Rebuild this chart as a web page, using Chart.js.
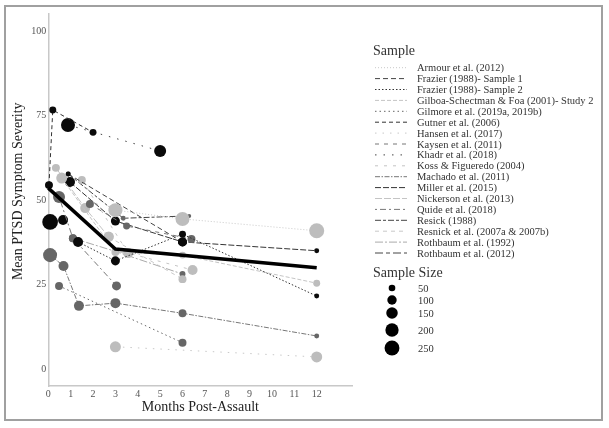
<!DOCTYPE html>
<html><head><meta charset="utf-8">
<script src="https://cdn.jsdelivr.net/npm/chart.js@4.4.1/dist/chart.umd.min.js"></script>
<style>
html,body{margin:0;padding:0;background:#fff;}
#wrap{position:relative;width:609px;height:428px;overflow:hidden;}
#c{position:absolute;left:0;top:0;}
#legend{position:absolute;left:0;top:0;pointer-events:none;}
#frame{position:absolute;left:4px;top:5px;width:595px;height:412px;border:2px solid #a0a0a0;pointer-events:none;}
</style></head>
<body>
<div id="wrap">
<canvas id="c" width="609" height="428"></canvas>
<svg id="legend" width="609" height="428" xmlns="http://www.w3.org/2000/svg"></svg>
<div id="frame"></div>
</div>
<script>
// ---- DATA: rows are [months post-assault, mean PTSD severity, sample size] ----
const armourPts       = [[3,47,222],[6,44.4,222],[12,40.9,255]];
const frazier1Pts     = [[0.89,57.7,28],[6,37.6,92]];
const frazier2Pts     = [[1.33,37.6,113],[3,32,92],[6,39.9,55],[12,21.6,28]];
const gilboaPts       = [[0.6,56.5,137],[3,34.6,72],[6,33.7,55],[12,25.4,55]];
const gilmorePts      = [[0.48,24.6,72],[6,7.8,72]];
const gutnerPts       = [[0.03,54.4,72],[0.2,76.6,55],[2,70,55]];
const hansenPts       = [[3,6.6,137],[12,3.6,137]];
const kaysenPts       = [[1.86,48.8,72],[3.5,42.3,55],[6.4,38.5,72]];
const khadrPts        = [[0.88,72.2,222],[5,64.5,163]];
const kossPts         = [[1.5,55.9,72],[3.57,34.3,113],[6.45,29.3,113]];
const machadoPts      = [[0.08,33.7,222],[0.68,30.5,113],[1.37,18.7,113],[3,19.5,113],[6,16.5,72],[12,9.8,28]];
const millerPts       = [[0.97,55.3,113],[3,43.8,92],[6,37.6,92],[12,35,28]];
const nickersonPts    = [[0.34,59.5,72],[1.65,47.6,113],[2.7,39.1,113]];
const quidePts        = [[0.48,50.9,163],[1.1,38.7,72],[3.05,24.6,92]];
const resickPts       = [[0.89,57.7,28],[3.35,44.6,28],[6.3,45.3,18]];
const resnickPts      = [[2.7,39.1,113],[6,26.6,72]];
const rothbaum1992Pts = [[1.1,38.7,72],[3,34.8,50],[6,28.1,40]];
const rothbaum2012Pts = [[0.08,43.5,280],[0.66,44.1,113]];

const meanTrendMonths = [0,3,12];
const meanTrendValues = [53.5,35.5,30];

const xTickValues = [0,1,2,3,4,5,6,7,8,9,10,11,12];
const yTickValues = [0,25,50,75,100];
const sizeLegendValues = [50,100,150,200,250];

const studyNames = ["Armour et al. (2012)","Frazier (1988)- Sample 1","Frazier (1988)- Sample 2",
 "Gilboa-Schectman & Foa (2001)- Study 2","Gilmore et al. (2019a, 2019b)","Gutner et al. (2006)",
 "Hansen et al. (2017)","Kaysen et al. (2011)","Khadr et al. (2018)","Koss & Figueredo (2004)",
 "Machado et al. (2011)","Miller et al. (2015)","Nickerson et al. (2013)","Quide et al. (2018)",
 "Resick (1988)","Resnick et al. (2007a & 2007b)","Rothbaum et al. (1992)","Rothbaum et al. (2012)"];
const studyPoints = [armourPts,frazier1Pts,frazier2Pts,gilboaPts,gilmorePts,gutnerPts,hansenPts,
 kaysenPts,khadrPts,kossPts,machadoPts,millerPts,nickersonPts,quidePts,resickPts,resnickPts,
 rothbaum1992Pts,rothbaum2012Pts];

// ---- STYLES (kept apart from data) ----
const B='#0a0a0a', D='#666666', L='#bdbdbd';
const studyStyles = [
 {line:'#c8c8c8', dash:[1,2],        point:L},
 {line:'#444444', dash:[5,3],        point:B},
 {line:'#333333', dash:[1.5,2],      point:B},
 {line:'#c4c4c4', dash:[4,2],        point:L},
 {line:'#666666', dash:[1.5,3],      point:D},
 {line:'#333333', dash:[4,3],        point:B},
 {line:'#c8c8c8', dash:[1.5,6],      point:L},
 {line:'#777777', dash:[4,5],        point:D},
 {line:'#444444', dash:[1.5,7],      point:B},
 {line:'#c4c4c4', dash:[3,6],        point:L},
 {line:'#777777', dash:[5,1.5,1.5,1.5], point:D},
 {line:'#333333', dash:[6,2],        point:B},
 {line:'#c4c4c4', dash:[7,2],        point:L},
 {line:'#777777', dash:[2,3,6,3],    point:D},
 {line:'#444444', dash:[6,2,3,2],    point:D},
 {line:'#c8c8c8', dash:[4,4],        point:L},
 {line:'#aaaaaa', dash:[8,2,2,2],    point:D},
 {line:'#444444', dash:[8,3,4,3],    point:B}
];
const FONT = '"Liberation Serif","Times New Roman",serif';
function radiusFor(n){ return 0.47*Math.sqrt(n); }

const datasets = [{
  label:'trend',
  data: meanTrendMonths.map((m,i)=>({x:m,y:meanTrendValues[i]})),
  showLine:true, borderColor:'#000', borderWidth:3.5, pointRadius:0, tension:0, clip:false
}];
studyPoints.forEach((pts,i)=>{
  const st = studyStyles[i];
  datasets.push({
    label: studyNames[i],
    data: pts.map(p=>({x:p[0],y:p[1]})),
    showLine:true, tension:0, borderColor:st.line, borderWidth:1, borderDash:st.dash,
    pointRadius: pts.map(p=>radiusFor(p[2])),
    pointBackgroundColor: st.point, pointBorderWidth:0, pointBorderColor: st.point,
    clip:false
  });
});

new Chart(document.getElementById('c'), {
  type:'scatter',
  data:{datasets},
  options:{
    responsive:false, animation:false, devicePixelRatio:1,
    layout:{padding:{left:0,top:14,right:256.5,bottom:0}},
    plugins:{legend:{display:false}, tooltip:{enabled:false}},
    scales:{
      x:{type:'linear', min:0, max:13.6,
        afterBuildTicks:s=>{ s.ticks = xTickValues.map(v=>({value:v})); },
        afterFit:s=>{ s.height = 42; },
        grid:{display:false, drawTicks:false},
        border:{display:true,color:'#c8c8c8',width:1.5},
        ticks:{font:{family:FONT,size:10},color:'#555',padding:2,autoSkip:false,maxRotation:0},
        title:{display:true,text:'Months Post-Assault',color:'#222',font:{family:FONT,size:14},padding:{top:0,bottom:12}}
      },
      y:{type:'linear', min:-5, max:105,
        afterBuildTicks:s=>{ s.ticks = yTickValues.map(v=>({value:v})); },
        afterFit:s=>{ s.width = 48.3; },
        grid:{display:false, drawTicks:false},
        border:{display:true,color:'#c8c8c8',width:1.5},
        ticks:{font:{family:FONT,size:10},color:'#555',padding:2},
        title:{display:true,text:'\u00A0\u00A0\u00A0\u00A0\u00A0Mean PTSD Symptom Severity',color:'#222',font:{family:FONT,size:14},padding:{top:10,bottom:0}}
      }
    }
  }
});

// ---- HTML/SVG legend ----
const svg = document.getElementById('legend');
const NS = 'http://www.w3.org/2000/svg';
function add(tag, attrs, text){
  const el = document.createElementNS(NS, tag);
  for (const k in attrs) el.setAttribute(k, attrs[k]);
  if (text !== undefined) el.textContent = text;
  svg.appendChild(el); return el;
}
add('text',{x:373,y:50,'font-family':FONT,'font-size':14,fill:'#333','dominant-baseline':'central'},'Sample');
studyNames.forEach((name,i)=>{
  const y = 67.7 + i*10.9;
  const st = studyStyles[i];
  add('line',{x1:375,x2:407,y1:y,y2:y,stroke:st.line,'stroke-width':1,'stroke-dasharray':st.dash.join(' ')});
  add('text',{x:417,y:y,'font-family':FONT,'font-size':10.5,fill:'#333','dominant-baseline':'central'},name);
});
add('text',{x:373,y:272,'font-family':FONT,'font-size':14,fill:'#333','dominant-baseline':'central'},'Sample Size');
const sizeRowY = [288,300,313,330,348];
sizeLegendValues.forEach((n,i)=>{
  add('circle',{cx:392,cy:sizeRowY[i],r:radiusFor(n),fill:'#000'});
  add('text',{x:418,y:sizeRowY[i],'font-family':FONT,'font-size':10.5,fill:'#333','dominant-baseline':'central'},String(n));
});
</script>
</body></html>
